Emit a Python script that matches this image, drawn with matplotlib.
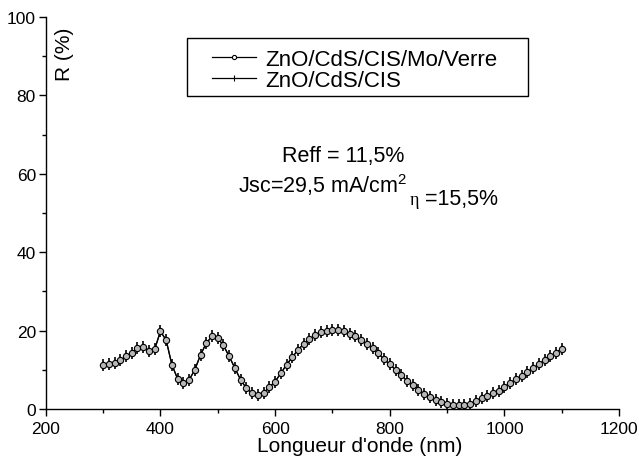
import matplotlib
matplotlib.use("Agg")
import matplotlib.pyplot as plt
from matplotlib.lines import Line2D
from matplotlib.patches import Rectangle
from matplotlib.ticker import MultipleLocator

plt.rcParams['font.family'] = ['Liberation Sans', 'DejaVu Sans']
plt.rcParams['mathtext.fontset'] = 'custom'
plt.rcParams['mathtext.rm'] = 'Liberation Sans'
plt.rcParams['mathtext.it'] = 'Liberation Sans'

wavelength = list(range(300, 1101, 10))
R_full = [11.25, 11.5, 11.7, 12.4, 13.4, 14.4, 15.5, 15.9, 14.9, 15.2,
          19.8, 17.6, 11.3, 7.7, 6.7, 7.4, 10.0, 13.8, 16.8, 18.5,
          18.1, 16.2, 13.4, 10.4, 7.4, 5.3, 4.0, 3.6, 4.2, 5.5,
          7.0, 9.1, 11.3, 13.2, 15.1, 16.6, 17.8, 18.9, 19.6, 20.0,
          20.2, 20.2, 19.8, 19.2, 18.5, 17.6, 16.6, 15.5, 14.2, 12.7,
          11.4, 10.0, 8.6, 7.2, 6.1, 4.9, 3.8, 3.0, 2.3, 1.7,
          1.35, 1.1, 1.0, 1.1, 1.4, 2.0, 2.7, 3.3, 4.0, 4.7,
          5.7, 6.6, 7.6, 8.4, 9.5, 10.4, 11.4, 12.5, 13.4, 14.4,
          15.3]
R_cis = list(R_full)

labels = ["ZnO/CdS/CIS/Mo/Verre", "ZnO/CdS/CIS"]
xlabel = "Longueur d'onde (nm)"
ylabel = "R (%)"

fig = plt.figure(figsize=(6.39, 4.6), dpi=100)
ax = fig.add_axes([0.0715, 0.1087, 0.8975, 0.8523])

ax.plot(wavelength, R_cis, color='black', lw=0.9, marker='|', ms=9,
        mew=1.2, zorder=2)
ax.plot(wavelength, R_full, color='black', lw=0.9, marker='o', ms=4.5,
        mfc='#b8b8b8', mec='black', mew=0.8, zorder=3)

ax.set_xlim(200, 1200)
ax.set_ylim(0, 100)
ax.xaxis.set_major_locator(MultipleLocator(200))
ax.xaxis.set_minor_locator(MultipleLocator(100))
ax.yaxis.set_major_locator(MultipleLocator(20))
ax.yaxis.set_minor_locator(MultipleLocator(10))
for s in ['top', 'right']:
    ax.spines[s].set_visible(False)
for s in ['left', 'bottom']:
    ax.spines[s].set_linewidth(1.0)
ax.tick_params(which='major', direction='out', length=5, width=1.0,
               labelsize=12.5)
ax.tick_params(axis='x', which='major', pad=3.5)
ax.tick_params(axis='y', which='major', pad=2)
ax.tick_params(which='minor', direction='out', length=3, width=1.0)

ax.set_xlabel(xlabel, fontsize=15)
ax.xaxis.set_label_coords(0.548, -0.068)
ax.text(0.032, 0.906, ylabel, transform=ax.transAxes, rotation=90,
        fontsize=15, ha='center', va='center')

handles = [
    Line2D([], [], color='black', lw=0.9, marker='o', ms=3, mfc='white', mec='black', mew=0.8),
    Line2D([], [], color='black', lw=0.9, marker='|', ms=5, mew=0.8),
]
leg = ax.legend(handles, labels, loc='upper left', bbox_to_anchor=(0.290, 0.918),
                fontsize=16, frameon=False,
                handlelength=2.0, handletextpad=0.4, borderpad=0,
                labelspacing=0.0, borderaxespad=0)
ax.add_patch(Rectangle((0.2465, 0.798), 0.841 - 0.2465, 0.946 - 0.798,
                       transform=ax.transAxes, fill=False, edgecolor='black',
                       lw=1.0, clip_on=False, zorder=5))

ax.text(718, 63.3, "Reff = 11,5%", fontsize=15.5, ha='center', va='baseline')
ax.text(535, 55.4, "Jsc=29,5 mA/cm$^2$", fontsize=15.5, ha='left', va='baseline')
ax.text(834, 52.3, "\u03b7", fontsize=13, ha='left', va='baseline',
        family=['Liberation Serif', 'DejaVu Serif'])
ax.text(862, 52.3, "=15,5%", fontsize=15.5, ha='left', va='baseline')

fig.savefig("out.png", dpi=100)
